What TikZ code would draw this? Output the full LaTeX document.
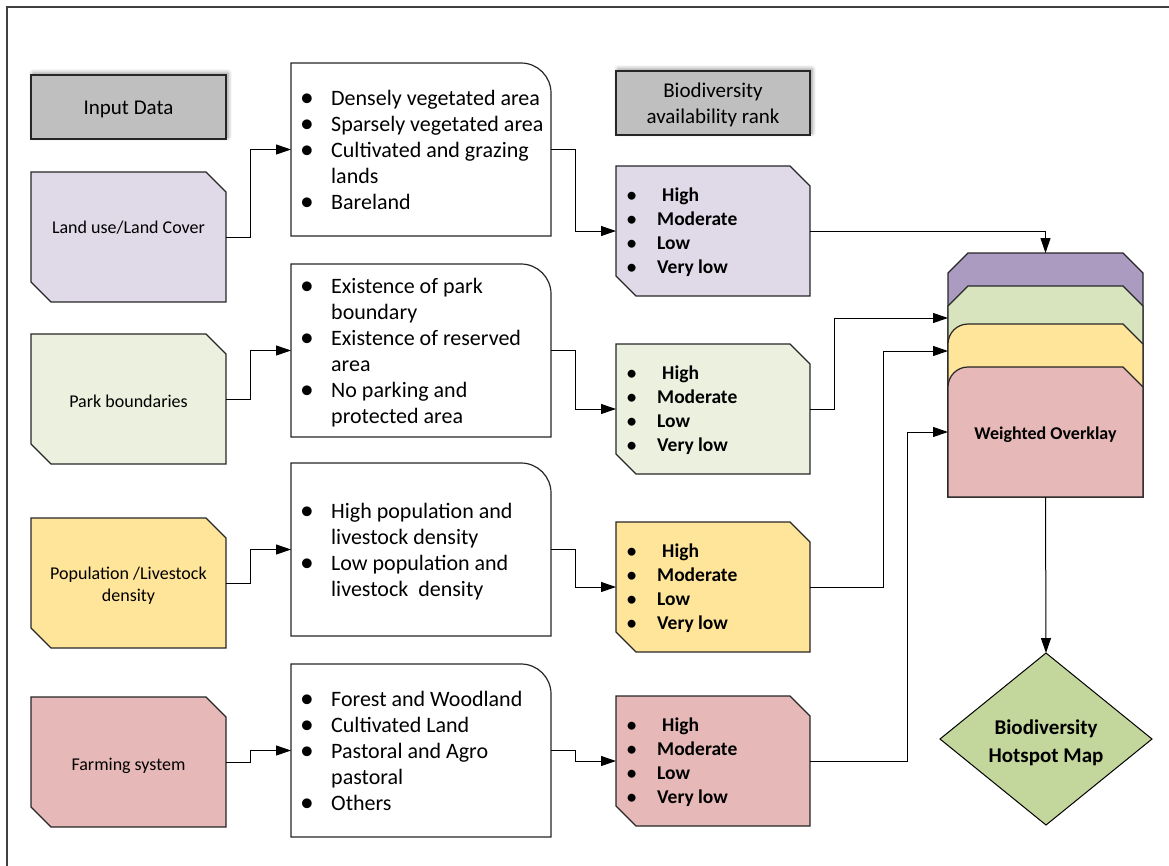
\documentclass[tikz,border=0pt]{standalone}
\usepackage{fontspec}
\setmainfont{Carlito}
\usetikzlibrary{arrows.meta,shapes.geometric,backgrounds,shadows.blur}

\definecolor{lavender}{HTML}{DFD9E8}
\definecolor{palegreen}{HTML}{EBF1DE}
\definecolor{paleyellow}{HTML}{FFE599}
\definecolor{palerose}{HTML}{E6B8B7}
\definecolor{ovpurple}{HTML}{AB9BC1}
\definecolor{ovgreen}{HTML}{D7E4BD}
\definecolor{hotgreen}{HTML}{C3D69B}
\definecolor{headgray}{HTML}{BFBFBF}
\definecolor{edgeline}{HTML}{262626}

% bullet columns for the two kinds of lists
\newcommand\critbul{\makebox[31pt][l]{\raisebox{-0.8pt}[0pt][0pt]{\scalebox{1.25}{•}}}}
\newcommand\rankbul{\makebox[31pt][l]{\raisebox{-0.4pt}[0pt][0pt]{\scalebox{1.15}{\mdseries •}}}}

% outlines drawn behind the nodes, from their anchors
\newcommand\snipshape[2]{%
  \filldraw[shapeline, fill=#2] (#1.north west) -- ([xshift=-20pt]#1.north east)
    -- ([yshift=-20pt]#1.north east) -- (#1.south east)
    -- ([xshift=20pt]#1.south west) -- ([yshift=20pt]#1.south west) -- cycle;}
\newcommand\roundshape[1]{%
  \filldraw[shapeline, fill=white] (#1.south west) -- (#1.north west)
    -- ([xshift=-30pt]#1.north east) arc[start angle=90, end angle=0, radius=30pt]
    -- (#1.south east) -- cycle;}
\newcommand\layersnip[2]{%
  \filldraw[shapeline, fill=#2] (#1.south west) -- ([yshift=-20pt]#1.north west)
    -- ([xshift=20pt]#1.north west) -- ([xshift=-20pt]#1.north east)
    -- ([yshift=-20pt]#1.north east) -- (#1.south east) -- cycle;}
\newcommand\layerround[2]{%
  \filldraw[shapeline, fill=#2] (#1.south west) -- ([yshift=-20pt]#1.north west)
    arc[start angle=180, end angle=90, radius=20pt]
    -- ([xshift=-20pt]#1.north east) -- ([yshift=-20pt]#1.north east)
    -- (#1.south east) -- cycle;}

\tikzset{
  shapeline/.style={draw=edgeline, line width=1.2pt, line join=miter},
  inbox/.style={inner sep=0pt, outer sep=0pt, minimum width=195pt, minimum height=130pt},
  inlabel/.style={inner sep=0pt, align=center, font=\fontsize{18}{22}\selectfont},
  critbox/.style={inner sep=0pt, outer sep=0pt, minimum width=260pt, minimum height=173pt},
  rankbox/.style={inner sep=0pt, outer sep=0pt, minimum width=194pt, minimum height=130pt},
  crittext/.style={anchor=west, inner sep=0pt, font=\fontsize{22}{26}\selectfont},
  ranktext/.style={anchor=west, inner sep=0pt, font=\bfseries\fontsize{19.5}{24}\selectfont},
  header/.style={draw=edgeline, line width=1.2pt, fill=headgray, inner sep=0pt, outer sep=0pt,
    minimum width=195pt, minimum height=64pt,
    blur shadow={shadow xshift=2pt, shadow yshift=2pt, shadow blur radius=4pt, shadow opacity=45}},
  headtext/.style={inner sep=0pt, align=center, font=\fontsize{21}{26}\selectfont},
  layer/.style={inner sep=0pt, outer sep=0pt, minimum width=195pt},
  arr/.style={-{Triangle[length=15pt,width=10pt]}, line width=1pt, black},
}

\begin{document}
\begin{tikzpicture}[x=1pt, y=-1pt]
\useasboundingbox (0,0) rectangle (1169,865);

% page frame
\draw[line width=1.5pt, black!75] (7,880) -- (7,7) -- (1180,7);

% column headers
\node[header] (hin) at (128.5,107) {};
\node[headtext] (hint) at ([yshift=-2pt]hin.center) {Input Data};
\node[header, minimum width=194pt] (hrank) at (713,103) {};
\node[headtext] (hrankt) at ([yshift=-2pt]hrank.center) {Biodiversity\\availability rank};

% input data
\node[inbox] (lu)  at (128.5,237) {};
\node[inbox] (pk)  at (128.5,399) {};
\node[inbox] (pop) at (128.5,583) {};
\node[inbox] (fs)  at (128.5,762) {};
\node[inlabel] (lul)  at ([yshift=9pt]lu.center)   {Land use/Land Cover};
\node[inlabel] (pkl)  at ([yshift=-2pt]pk.center)  {Park boundaries};
\node[inlabel] (popl) at ([yshift=-3pt]pop.center) {Population /Livestock\\density};
\node[inlabel] (fsl)  at ([yshift=-4pt]fs.center)  {Farming system};

% criteria
\node[critbox] (c1) at (421,149.5) {};
\node[critbox] (c2) at (421,350.5) {};
\node[critbox] (c3) at (421,549.5) {};
\node[critbox] (c4) at (421,750.5) {};

\node[crittext] (c1t) at ([xshift=9pt, yshift=-3pt]c1.west) {%
  \begin{tabular}{@{}l@{}l@{}}
  \critbul & Densely vegetated area\\
  \critbul & Sparsely vegetated area\\
  \critbul & Cultivated and grazing\\
           & lands\\
  \critbul & Bareland
  \end{tabular}};
\node[crittext] (c2t) at ([xshift=9pt, yshift=-3pt]c2.west) {%
  \begin{tabular}{@{}l@{}l@{}}
  \critbul & Existence of park\\
           & boundary\\
  \critbul & Existence of reserved\\
           & area\\
  \critbul & No parking and\\
           & protected area
  \end{tabular}};
\node[crittext] (c3t) at ([xshift=9pt, yshift=-3pt]c3.west) {%
  \begin{tabular}{@{}l@{}l@{}}
  \critbul & High population and\\
           & livestock density\\
  \critbul & Low population and\\
           & livestock\ \ density
  \end{tabular}};
\node[crittext] (c4t) at ([xshift=9pt, yshift=-3pt]c4.west) {%
  \begin{tabular}{@{}l@{}l@{}}
  \critbul & Forest and Woodland\\
  \critbul & Cultivated Land\\
  \critbul & Pastoral and Agro\\
           & pastoral\\
  \critbul & Others
  \end{tabular}};

% ranks
\node[rankbox] (r1) at (713,231) {};
\node[rankbox] (r2) at (713,409) {};
\node[rankbox] (r3) at (713,587) {};
\node[rankbox] (r4) at (713,761) {};
\foreach \r in {r1,r2,r3,r4}{
  \node[ranktext] (\r t) at ([xshift=10pt, yshift=-2pt]\r.west) {%
    \begin{tabular}{@{}l@{}l@{}}
    \rankbul & \hspace{5pt}High\\
    \rankbul & Moderate\\
    \rankbul & Low\\
    \rankbul & Very low
    \end{tabular}};
}

% overlay stack
\node[layer, minimum height=244pt] (ovP) at (1045.5,375) {};
\node[layer, minimum height=211pt] (ovG) at (1045.5,391.5) {};
\node[layer, minimum height=173pt] (ovY) at (1045.5,410.5) {};
\node[layer, minimum height=130pt] (ovR) at (1045.5,432) {};
\node[inner sep=0pt, font=\bfseries\fontsize{18}{21}\selectfont] (ovRt) at ([yshift=-3pt]ovR.center) {Weighted Overklay};
\coordinate (inG) at (948,318);
\coordinate (inY) at (948,351);

% result
\node[diamond, draw=black, line width=1pt, fill=hotgreen, inner sep=0pt, outer sep=0pt,
      minimum width=212pt, minimum height=172pt] (hm) at (1046,739) {};
\node[inner sep=0pt, align=center, font=\bfseries\fontsize{21}{28}\selectfont] (hmt)
      at ([yshift=-4pt]hm.center) {Biodiversity\\Hotspot Map};

% shapes behind the texts
\begin{scope}[on background layer]
  \snipshape{lu}{lavender}
  \snipshape{pk}{palegreen}
  \snipshape{pop}{paleyellow}
  \snipshape{fs}{palerose}
  \roundshape{c1}
  \roundshape{c2}
  \roundshape{c3}
  \roundshape{c4}
  \snipshape{r1}{lavender}
  \snipshape{r2}{palegreen}
  \snipshape{r3}{paleyellow}
  \snipshape{r4}{palerose}
  \layersnip{ovP}{ovpurple}
  \layersnip{ovG}{ovgreen}
  \layerround{ovY}{paleyellow}
  \layerround{ovR}{palerose}
\end{scope}

% connectors
\draw[arr] (lu.east)  -- ++(24,0) |- (c1.west);
\draw[arr] (pk.east)  -- ++(24,0) |- (c2.west);
\draw[arr] (pop.east) -- ++(24,0) |- (c3.west);
\draw[arr] (fs.east)  -- ++(24,0) |- (c4.west);

\draw[arr] (c1.east) -- ++(24,0) |- (r1.west);
\draw[arr] (c2.east) -- ++(24,0) |- (r2.west);
\draw[arr] (c3.east) -- ++(24,0) |- (r3.west);
\draw[arr] (c4.east) -- ++(24,0) |- (r4.west);

\draw[arr] (r1.east) -| (ovP.north);
\draw[arr] (r2.east) -- ++(24,0) |- (inG);
\draw[arr] (r3.east) -- ++(73,0) |- (inY);
\draw[arr] (r4.east) -- ++(97,0) |- (ovR.west);

\draw[arr] (ovR.south) -- (hm.north);
\end{tikzpicture}
\end{document}
